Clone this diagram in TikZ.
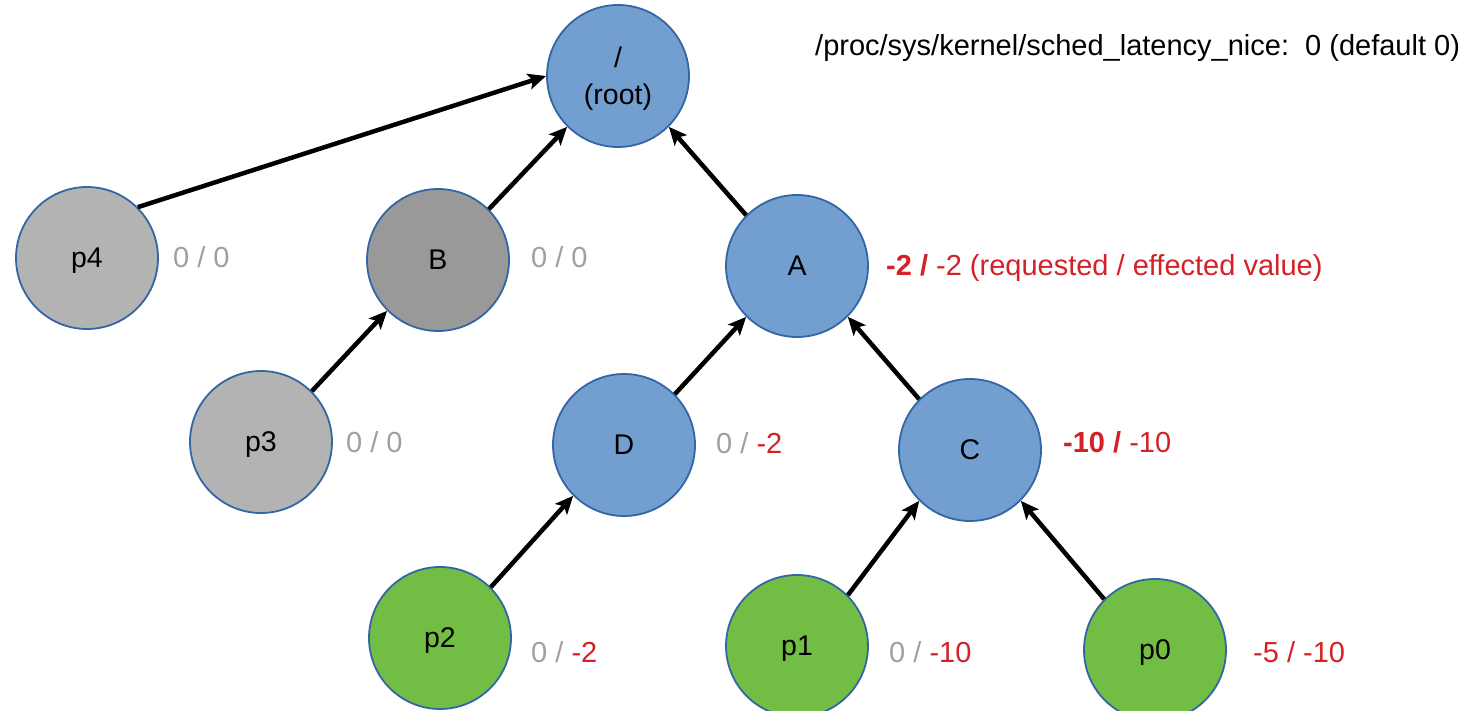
\documentclass[tikz,border=0pt]{standalone}
\usepackage{fontspec}
\setmainfont{Liberation Sans}
\usetikzlibrary{arrows.meta}
\definecolor{nodeblue}{RGB}{114,159,207}
\definecolor{edgeblue}{RGB}{52,101,164}
\definecolor{procgray}{RGB}{179,179,179}
\definecolor{grpgray}{RGB}{153,153,153}
\definecolor{taskgreen}{RGB}{114,190,68}
\definecolor{valred}{RGB}{213,32,40}
\definecolor{valgray}{RGB}{160,160,160}
\begin{document}
\begin{tikzpicture}[x=1pt,y=-1pt,
  circ/.style={circle, draw=edgeblue, line width=1.8pt, minimum size=142pt, inner sep=0pt,
    font=\fontsize{28.5}{37}\selectfont, align=center, text depth=0pt},
  grp/.style={circ, fill=nodeblue},
  grpg/.style={circ, fill=grpgray},
  procg/.style={circ, fill=procgray},
  task/.style={circ, fill=taskgreen},
  conn/.style={line width=4.5pt, -{Stealth[length=18pt,width=16pt,inset=4pt]}},
  val/.style={anchor=base west, inner sep=0pt, font=\fontsize{29}{34}\selectfont, text=valgray},
  valr/.style={val, text=valred}]
\useasboundingbox (0,0) rectangle (1473,711);

\node[grp] (root) at (618,76) {/\\(root)};
\node[procg] (p4) at (87,258) {p4};
\node[grpg] (B) at (438,260) {B};
\node[grp] (A) at (797,266) {A};
\node[procg] (p3) at (261,442) {p3};
\node[grp] (D) at (624,445) {D};
\node[grp] (C) at (970,450) {C};
\node[task] (p2) at (440,638) {p2};
\node[task] (p1) at (797,646) {p1};
\node[task] (p0) at (1155,650) {p0};

\draw[conn] (p4.45) -- (root.west);
\draw[conn] (B.45) -- (root.225);
\draw[conn] (A.135) -- (root.315);
\draw[conn] (p3.45) -- (B.225);
\draw[conn] (D.45) -- (A.225);
\draw[conn] (C.135) -- (A.315);
\draw[conn] (p2.45) -- (D.225);
\draw[conn] (p1.45) -- (C.225);
\draw[conn] (p0.135) -- (C.315);

\node[val, text=black] (title) at (815,56) {/proc/sys/kernel/sched\_latency\_nice:\ \ 0 (default 0)};
\node[val] (lp4) at (173,268) {0 / 0};
\node[val] (lB) at (531,268) {0 / 0};
\node[valr] (lA) at (886,276) {\textbf{-2 /} -2 (requested / effected value)};
\node[val] (lp3) at (346,452) {0 / 0};
\node[val] (lD) at (716,453) {0 / \textcolor{valred}{-2}};
\node[valr] (lC) at (1063,452) {\textbf{-10 /} -10};
\node[val] (lp2) at (531,662) {0 / \textcolor{valred}{-2}};
\node[val] (lp1) at (889,662) {0 / \textcolor{valred}{-10}};
\node[valr] (lp0) at (1253,662) {-5 / -10};
\end{tikzpicture}
\end{document}
